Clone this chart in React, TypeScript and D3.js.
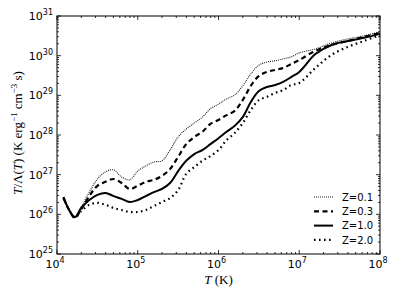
import { useEffect, useRef } from "react";
import * as d3 from "d3";

// readings are log10 values
const logTemp = [4.08, 4.15, 4.22, 4.3, 4.4, 4.5, 4.6, 4.7, 4.8, 4.9, 5.0, 5.1, 5.2, 5.3, 5.4, 5.5, 5.6, 5.7, 5.8, 5.9, 6.0, 6.1, 6.2, 6.3, 6.4, 6.5, 6.6, 6.7, 6.8, 6.9, 7.0, 7.2, 7.4, 7.6, 7.8, 8.0];

const logRateZ01 = [26.41, 26.11, 25.91, 26.19, 26.56, 26.89, 27.07, 27.12, 26.94, 26.87, 27.09, 27.22, 27.32, 27.35, 27.62, 27.95, 28.15, 28.3, 28.45, 28.66, 28.78, 28.91, 29.01, 29.24, 29.54, 29.76, 29.84, 29.87, 29.92, 29.97, 30.07, 30.17, 30.32, 30.42, 30.5, 30.6];
const logRateZ03 = [26.41, 26.11, 25.91, 26.13, 26.46, 26.72, 26.82, 26.89, 26.79, 26.64, 26.72, 26.82, 26.87, 26.97, 27.14, 27.45, 27.77, 27.95, 28.08, 28.28, 28.38, 28.5, 28.61, 28.88, 29.24, 29.49, 29.59, 29.64, 29.69, 29.79, 29.89, 30.12, 30.27, 30.37, 30.47, 30.57];
const logRateZ10 = [26.44, 26.11, 25.93, 26.16, 26.36, 26.49, 26.54, 26.46, 26.39, 26.31, 26.36, 26.46, 26.56, 26.64, 26.79, 27.09, 27.35, 27.52, 27.62, 27.77, 27.92, 28.08, 28.23, 28.45, 28.83, 29.11, 29.21, 29.26, 29.34, 29.46, 29.59, 30.04, 30.27, 30.37, 30.45, 30.55];
const logRateZ20 = [26.41, 26.11, 25.93, 26.08, 26.24, 26.29, 26.24, 26.16, 26.11, 26.06, 26.06, 26.11, 26.21, 26.31, 26.41, 26.61, 27.02, 27.19, 27.35, 27.47, 27.62, 27.87, 28.05, 28.3, 28.63, 28.88, 28.96, 29.06, 29.13, 29.26, 29.31, 29.69, 30.02, 30.22, 30.37, 30.52];

const seriesNames = ["Z=0.1", "Z=0.3", "Z=1.0", "Z=2.0"];
const xDecades = [4, 5, 6, 7, 8];
const yDecades = [25, 26, 27, 28, 29, 30, 31];

const lineStyles = [
  { dash: "1,1", width: 1.1, color: "#222" },
  { dash: "5,3.5", width: 2.2, color: "#000" },
  { dash: null, width: 2, color: "#000" },
  { dash: "1.6,3.4", width: 2.2, color: "#000" },
];

function CoolingChart() {
  const svgRef = useRef(null);

  useEffect(() => {
    const svg = d3.select(svgRef.current);
    svg.selectAll("*").remove();

    const left = 57, right = 380, top = 16, bottom = 254;
    const x = d3.scaleLog().domain([1e4, 1e8]).range([left, right]);
    const y = d3.scaleLog().domain([1e25, 1e31]).range([bottom, top]);

    const allSeries = [logRateZ01, logRateZ03, logRateZ10, logRateZ20];
    const line = d3.line()
      .x((d) => x(Math.pow(10, d[0])))
      .y((d) => y(Math.pow(10, d[1])))
      .curve(d3.curveCatmullRom.alpha(0.5));

    allSeries.forEach((vals, i) => {
      const st = lineStyles[i];
      svg.append("path")
        .datum(logTemp.map((t, j) => [t, vals[j]]))
        .attr("d", line)
        .attr("fill", "none")
        .attr("stroke", st.color)
        .attr("stroke-width", st.width)
        .attr("stroke-dasharray", st.dash);
    });

    // ticks, inward on every side
    const ticks = svg.append("g").attr("stroke", "#000").attr("stroke-width", 0.8);
    xDecades.forEach((d) => {
      const px = x(Math.pow(10, d));
      ticks.append("line").attr("x1", px).attr("x2", px).attr("y1", bottom).attr("y2", bottom - 4);
      ticks.append("line").attr("x1", px).attr("x2", px).attr("y1", top).attr("y2", top + 4);
      if (d < 8) {
        d3.range(2, 10).forEach((k) => {
          const m = x(k * Math.pow(10, d));
          ticks.append("line").attr("x1", m).attr("x2", m).attr("y1", bottom).attr("y2", bottom - 2);
          ticks.append("line").attr("x1", m).attr("x2", m).attr("y1", top).attr("y2", top + 2);
        });
      }
    });
    yDecades.forEach((d) => {
      const py = y(Math.pow(10, d));
      ticks.append("line").attr("x1", left).attr("x2", left + 4).attr("y1", py).attr("y2", py);
      ticks.append("line").attr("x1", right).attr("x2", right - 4).attr("y1", py).attr("y2", py);
      if (d < 31) {
        d3.range(2, 10).forEach((k) => {
          const m = y(k * Math.pow(10, d));
          ticks.append("line").attr("x1", left).attr("x2", left + 2).attr("y1", m).attr("y2", m);
          ticks.append("line").attr("x1", right).attr("x2", right - 2).attr("y1", m).attr("y2", m);
        });
      }
    });

    svg.append("rect")
      .attr("x", left).attr("y", top)
      .attr("width", right - left).attr("height", bottom - top)
      .attr("fill", "none").attr("stroke", "#000").attr("stroke-width", 1);

    const font = "DejaVu Sans, sans-serif";

    xDecades.forEach((d) => {
      const t = svg.append("text")
        .attr("x", x(Math.pow(10, d)) - 2)
        .attr("y", bottom + 14)
        .attr("text-anchor", "middle")
        .attr("font-family", font)
        .attr("font-size", 11);
      t.append("tspan").text("10");
      t.append("tspan").attr("dy", -5).attr("font-size", 8).text(d);
    });

    yDecades.forEach((d) => {
      const t = svg.append("text")
        .attr("x", left - 4)
        .attr("y", y(Math.pow(10, d)) + 4)
        .attr("text-anchor", "end")
        .attr("font-family", font)
        .attr("font-size", 11);
      t.append("tspan").text("10");
      t.append("tspan").attr("dy", -5).attr("font-size", 8).text(d);
    });

    const serif = "Liberation Serif, serif";
    const xl = svg.append("text")
      .attr("x", (left + right) / 2)
      .attr("y", 284)
      .attr("text-anchor", "middle")
      .attr("font-family", serif)
      .attr("font-size", 13);
    xl.append("tspan").attr("font-style", "italic").text("T");
    xl.append("tspan").text(" (K)");

    const yl = svg.append("text")
      .attr("transform", "translate(22,133) rotate(-90)")
      .attr("text-anchor", "middle")
      .attr("font-family", serif)
      .attr("font-size", 13);
    yl.append("tspan").attr("font-style", "italic").text("T");
    yl.append("tspan").text("/Λ(");
    yl.append("tspan").attr("font-style", "italic").text("T");
    yl.append("tspan").text(")  (K  erg");
    yl.append("tspan").attr("dy", -5).attr("font-size", 9).text("−1");
    yl.append("tspan").attr("dy", 5).text("  cm");
    yl.append("tspan").attr("dy", -5).attr("font-size", 9).text("−3");
    yl.append("tspan").attr("dy", 5).text("  s)");

    const legend = svg.append("g");
    seriesNames.forEach((name, i) => {
      const st = lineStyles[i];
      const ry = 197 + i * 14.3;
      legend.append("line")
        .attr("x1", 314).attr("x2", 333).attr("y1", ry).attr("y2", ry)
        .attr("stroke", st.color)
        .attr("stroke-width", st.width)
        .attr("stroke-dasharray", st.dash);
      legend.append("text")
        .attr("x", 342).attr("y", ry + 3.6)
        .attr("font-family", font)
        .attr("font-size", 10)
        .text(name);
    });
  }, []);

  return (
    <svg
      ref={svgRef}
      width={399}
      height={299}
      style={{ position: "absolute", left: 0, top: 0, background: "#fff" }}
    />
  );
}

export default function App() {
  return <CoolingChart />;
}
